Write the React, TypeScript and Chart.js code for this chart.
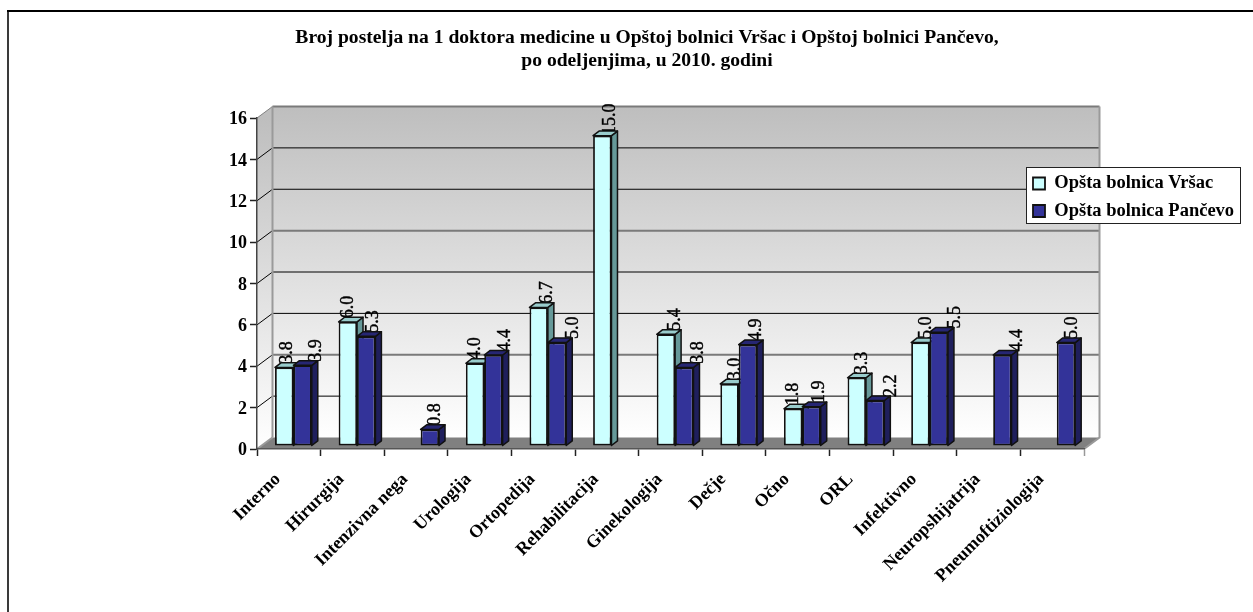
import React, { useEffect, useRef } from "react";
import { Chart, registerables } from "chart.js";

Chart.register(...registerables);

const categories = ["Interno", "Hirurgija", "Intenzivna nega", "Urologija", "Ortopedija", "Rehabilitacija", "Ginekologija", "Dečje", "Očno", "ORL", "Infektivno", "Neuropshijatrija", "Pneumoftiziologija"];
const vrsac = [3.8, 6.0, null, 4.0, 6.7, 15.0, 5.4, 3.0, 1.8, 3.3, 5.0, null, null];
const pancevo = [3.9, 5.3, 0.8, 4.4, 5.0, null, 3.8, 4.9, 1.9, 2.2, 5.5, 4.4, 5.0];
const seriesNames = ["Opšta bolnica Vršac", "Opšta bolnica Pančevo"];
const titleLines = ["Broj postelja na 1 doktora medicine u Opštoj bolnici Vršac i Opštoj bolnici Pančevo,", "po odeljenjima, u 2010. godini"];

// horizontal drift of each value label relative to its bar
const labelDriftA = [1, -2, 0, -2, 6.4, 6, 7.5, 3.3, -2.3, 3.4, 3.8, 0, 0];
const labelDriftB = [12, 5.5, 3, 9.6, 14.7, 0, 11.5, 6.5, 6, 14.3, 14.7, 12.8, 4.2];

const FONT = '"Liberation Serif", "Times New Roman", serif';
const WALL_DX = 15.5, WALL_DY = -11.5;   // depth of the chart box
const BAR_DX = 4.6, BAR_DY = -3;         // where bars stand on the floor
const FACE_DX = 6, FACE_DY = -4.6;       // depth of a bar
const TITLE_STRETCH = 1.077;
const heavyGridValues = [16, 10, 4];

const faces = [
  { front: "#CCFFFF", side: "#669999", top: "#99CCCC" },
  { front: "#333399", side: "#1F1F5C", top: "#262673" },
];
const drifts = [labelDriftA, labelDriftB];

const box3d = {
  id: "box3d",
  afterLayout(chart: any) {
    const t = chart.titleBlock;
    t.left += 105; t.right += 105;
    if (!t.__stretched) {
      const plain = t.draw;
      t.draw = function (...args: any[]) {
        const cx = (this.left + this.right) / 2;
        const c = chart.ctx;
        c.save();
        c.translate(cx, 0); c.scale(TITLE_STRETCH, 1); c.translate(-cx, 0);
        plain.apply(this, args);
        c.restore();
      };
      t.__stretched = true;
    }
    const l = chart.legend;
    l.left = 1024; l.top = 165.25; l.right = 1250; l.bottom = 240;
    l.width = l.right - l.left; l.height = l.bottom - l.top;
    l.adjustHitBoxes && l.adjustHitBoxes();
  },
  afterDatasetsUpdate(chart: any) {
    chart.getSortedVisibleDatasetMetas().forEach((meta: any) => {
      meta.data.forEach((bar: any) => {
        bar.x += BAR_DX; bar.y += BAR_DY; bar.base += BAR_DY;
      });
    });
  },
  beforeDraw(chart: any) {
    const { ctx, chartArea: a, scales: { y } } = chart;
    ctx.save();
    // outer frame
    ctx.fillStyle = "#3a3a3a"; ctx.fillRect(7, 10, 2, 602);
    ctx.fillStyle = "#000"; ctx.fillRect(7, 10, 1246, 2);

    const backL = a.left + WALL_DX, backR = a.right + WALL_DX;
    const backT = a.top + WALL_DY, backB = a.bottom + WALL_DY;
    const g = ctx.createLinearGradient(0, backT, 0, backB);
    g.addColorStop(0, "#BEBEBE"); g.addColorStop(1, "#FFFFFF");
    ctx.fillStyle = g;
    ctx.fillRect(backL, backT, backR - backL, backB - backT);
    const gs = ctx.createLinearGradient(0, a.top, 0, a.bottom);
    gs.addColorStop(0, "#BEBEBE"); gs.addColorStop(1, "#FFFFFF");
    ctx.fillStyle = gs;
    ctx.beginPath();
    ctx.moveTo(a.left, a.top); ctx.lineTo(backL, backT); ctx.lineTo(backL, backB); ctx.lineTo(a.left, a.bottom);
    ctx.closePath(); ctx.fill();

    // floor
    ctx.fillStyle = "#808080";
    ctx.beginPath();
    ctx.moveTo(a.left, a.bottom); ctx.lineTo(a.right, a.bottom); ctx.lineTo(backR, backB); ctx.lineTo(backL, backB);
    ctx.closePath(); ctx.fill();

    // grid on the walls
    y.ticks.forEach((t: any) => {
      const py = y.getPixelForValue(t.value);
      const by = py + WALL_DY;
      ctx.lineWidth = 1; ctx.strokeStyle = t.value === 16 ? "#808080" : "#000";
      if (t.value !== 0) {
        ctx.beginPath(); ctx.moveTo(a.left, py); ctx.lineTo(backL, by); ctx.stroke();
        const heavy = heavyGridValues.includes(t.value);
        ctx.lineWidth = heavy ? 2 : 1;
        ctx.strokeStyle = heavy ? "#7a7a7a" : "#000";
        ctx.beginPath(); ctx.moveTo(backL, by); ctx.lineTo(backR, by); ctx.stroke();
      }
    });
    // box edges
    ctx.strokeStyle = "#9a9a9a"; ctx.lineWidth = 2;
    ctx.beginPath(); ctx.moveTo(backL, backT); ctx.lineTo(backL, backB); ctx.stroke();
    ctx.beginPath(); ctx.moveTo(backR, backT); ctx.lineTo(backR, backB); ctx.lineTo(a.right, a.bottom); ctx.stroke();
    ctx.beginPath(); ctx.moveTo(a.left, a.bottom); ctx.lineTo(backL, backB); ctx.stroke();

    // legend plate
    ctx.fillStyle = "#fff"; ctx.fillRect(1026.5, 167.5, 214, 56);
    ctx.strokeStyle = "#222"; ctx.lineWidth = 1;
    ctx.strokeRect(1026.5, 167.5, 214, 56);
    ctx.restore();
  },
  beforeDatasetsDraw(chart: any) {
    const { ctx } = chart;
    const metas = chart.getSortedVisibleDatasetMetas();
    ctx.save();
    // value labels sit behind the bars
    ctx.fillStyle = "#000";
    ctx.strokeStyle = "#000";
    ctx.lineWidth = 0.4;
    ctx.font = `18px ${FONT}`;
    ctx.textAlign = "left";
    ctx.textBaseline = "middle";
    metas.forEach((meta: any, d: number) => {
      meta.data.forEach((bar: any, i: number) => {
        const v = chart.data.datasets[d].data[i];
        if (v == null) return;
        const text = v.toFixed(1);
        ctx.save();
        ctx.translate(bar.x + drifts[d][i] + 1.5, bar.y + FACE_DY + 1 + (v >= 10 ? 3 : 0));
        ctx.scale(1.1, 1);
        ctx.rotate(-Math.PI / 2);
        ctx.fillText(text, 0, 0);
        ctx.strokeText(text, 0, 0);
        ctx.restore();
      });
    });
    metas.forEach((meta: any, d: number) => {
      const c = faces[d];
      ctx.strokeStyle = "#111";
      ctx.lineWidth = 1.5;
      ctx.lineJoin = "round";
      meta.data.forEach((bar: any, i: number) => {
        if (chart.data.datasets[d].data[i] == null) return;
        const l = bar.x - bar.width / 2, r = bar.x + bar.width / 2;
        const t = bar.y, b = bar.base;
        ctx.fillStyle = c.side;
        ctx.beginPath();
        ctx.moveTo(r, t); ctx.lineTo(r + FACE_DX, t + FACE_DY); ctx.lineTo(r + FACE_DX, b + FACE_DY); ctx.lineTo(r, b);
        ctx.closePath(); ctx.fill(); ctx.stroke();
        ctx.fillStyle = c.top;
        ctx.beginPath();
        ctx.moveTo(l, t); ctx.lineTo(l + FACE_DX, t + FACE_DY); ctx.lineTo(r + FACE_DX, t + FACE_DY); ctx.lineTo(r, t);
        ctx.closePath(); ctx.fill(); ctx.stroke();
      });
      meta.controller.draw();
    });
    ctx.restore();
    return false;
  },
};

export default function App() {
  const ref = useRef<HTMLCanvasElement>(null);
  useEffect(() => {
    const chart = new Chart(ref.current!, {
      type: "bar",
      data: {
        labels: categories,
        datasets: [
          { label: seriesNames[0], data: vrsac, backgroundColor: faces[0].front, borderColor: "#111", borderWidth: 1.8, borderSkipped: false },
          { label: seriesNames[1], data: pancevo, backgroundColor: faces[1].front, borderColor: "#111", borderWidth: 1.8, borderSkipped: false },
        ],
      },
      options: {
        responsive: false,
        animation: false,
        events: [],
        layout: { padding: { left: 0, right: 169, top: 0, bottom: 0 } },
        datasets: { bar: { categoryPercentage: 0.578, barPercentage: 1 } },
        scales: {
          x: {
            offset: true,
            grid: { offset: true, drawOnChartArea: false, tickLength: 7, tickWidth: 1.5, tickColor: (c: any) => (c.index === undefined ? "#999" : "#222") },
            border: { color: "#555", width: 1.5 },
            ticks: { autoSkip: false, maxRotation: 45, minRotation: 45, labelOffset: -11, padding: 13, color: "#000", font: { family: FONT, size: 18, weight: "bold" } },
            afterFit: (s: any) => { s.height = 163; },
          },
          y: {
            min: 0, max: 16,
            grid: { drawOnChartArea: false, tickLength: 7, tickWidth: 1.5, color: "#222" },
            border: { color: "#444", width: 1.5 },
            ticks: { stepSize: 2, padding: 3, labelOffset: 1.5, color: "#000", font: { family: FONT, size: 18, weight: "bold" } },
            afterFit: (s: any) => { s.width = 257; },
          },
        },
        plugins: {
          tooltip: { enabled: false },
          title: {
            display: true,
            text: titleLines,
            color: "#000",
            font: { family: FONT, size: 18.2, weight: "bold", lineHeight: 23 / 18.2 },
            padding: { top: 26.5, bottom: 45.5 },
          },
          legend: {
            position: "chartArea",
            align: "start",
            labels: {
              boxWidth: 12, boxHeight: 12, padding: 9, color: "#000",
              font: { family: FONT, size: 18.5, weight: "bold" },
            },
          },
        },
      } as any,
      plugins: [box3d as any],
    });
    return () => chart.destroy();
  }, []);
  return <canvas ref={ref} width={1253} height={612} style={{ position: "absolute", left: 0, top: 0, display: "block" }} />;
}
